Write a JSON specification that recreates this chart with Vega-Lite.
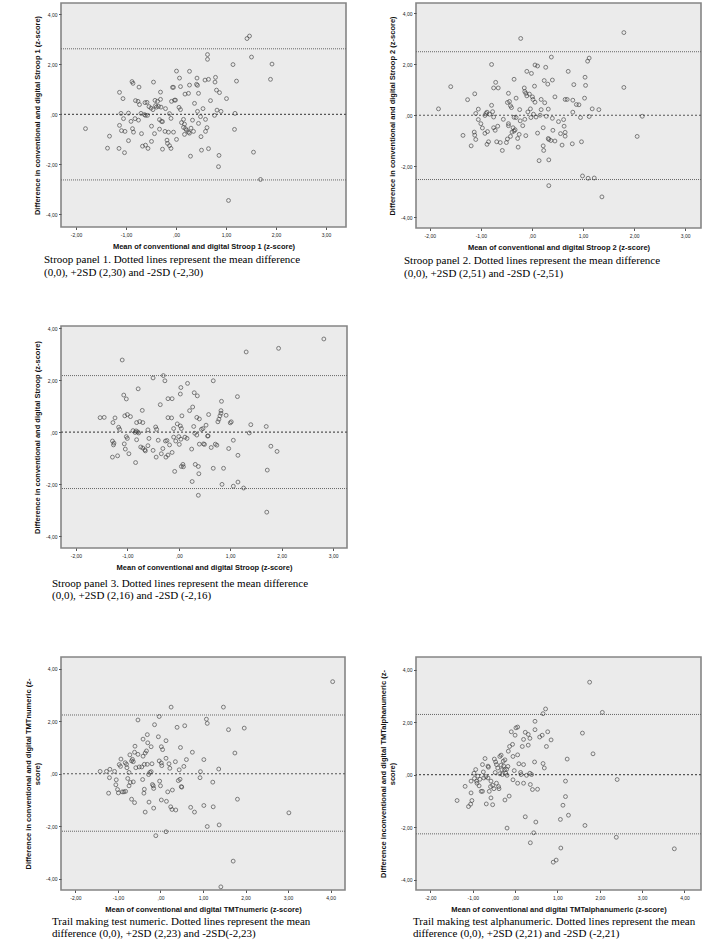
{
"$schema": "https://vega.github.io/schema/vega-lite/v6.json",
"background": "white",
"padding": {"left": 23, "top": 2, "right": 5, "bottom": 5},
"config": {
  "view": {"fill": "#ebebeb", "stroke": "#858585", "strokeWidth": 1.6},
  "axis": {"grid": false, "domain": false, "ticks": true, "tickSize": 2.5, "tickColor": "#555", "labelFont": "Liberation Sans", "labelFontSize": 5, "labelColor": "#222", "labelPadding": 1.5, "titleFont": "Liberation Sans", "titleFontSize": 7.5, "titleFontWeight": "bold", "titleColor": "#111", "titlePadding": 4, "labelOverlap": false, "labelFlush": false},
  "axisX": {"labelPadding": 3, "titlePadding": 5},
  "title": {"font": "Liberation Serif", "fontSize": 11, "fontWeight": "normal", "color": "#000", "orient": "bottom", "anchor": "start", "frame": "group", "lineHeight": 12.5, "offset": 3},
  "point": {"shape": "circle", "filled": false, "size": 15, "stroke": "#3a3a3a", "strokeWidth": 0.9}
},
"datasets": {
"p1": [{"x":-1.81,"y":-0.57},{"x":-1.33,"y":-0.87},{"x":-1.37,"y":-1.35},{"x":-1.13,"y":0.88},{"x":-1.06,"y":0.63},{"x":-1.10,"y":0.04},{"x":-1.13,"y":-0.44},{"x":-1.09,"y":-0.65},{"x":-1.02,"y":-0.68},{"x":-1.14,"y":-1.36},{"x":-1.03,"y":-1.53},{"x":-1.05,"y":-0.17},{"x":-0.95,"y":-1.05},{"x":-0.95,"y":0.05},{"x":-0.88,"y":1.31},{"x":-0.86,"y":1.24},{"x":-0.90,"y":-0.28},{"x":-0.87,"y":-0.57},{"x":-0.85,"y":-0.71},{"x":-0.81,"y":0.55},{"x":-0.76,"y":0.52},{"x":-0.82,"y":-0.17},{"x":-0.75,"y":-0.23},{"x":-0.74,"y":1.09},{"x":-0.73,"y":0.39},{"x":-0.70,"y":0.04},{"x":-0.69,"y":-0.77},{"x":-0.67,"y":-1.27},{"x":-0.63,"y":-0.01},{"x":-0.61,"y":-0.04},{"x":-0.62,"y":0.47},{"x":-0.58,"y":0.48},{"x":-0.61,"y":-1.23},{"x":-0.57,"y":-0.04},{"x":-0.54,"y":0.31},{"x":-0.56,"y":-1.36},{"x":-0.49,"y":-0.47},{"x":-0.49,"y":-1.08},{"x":-0.50,"y":0.25},{"x":-0.45,"y":1.29},{"x":-0.43,"y":-0.77},{"x":-0.46,"y":0.19},{"x":-0.42,"y":0.56},{"x":-0.41,"y":0.35},{"x":-0.39,"y":0.29},{"x":-0.35,"y":0.32},{"x":-0.37,"y":0.52},{"x":-0.31,"y":0.89},{"x":-0.31,"y":0.60},{"x":-0.30,"y":0.29},{"x":-0.33,"y":-0.21},{"x":-0.33,"y":-0.59},{"x":-0.27,"y":-1.39},{"x":-0.29,"y":-0.28},{"x":-0.27,"y":-0.29},{"x":-0.21,"y":0.23},{"x":-0.22,"y":-0.68},{"x":-0.18,"y":-1.03},{"x":-0.17,"y":-1.16},{"x":-0.15,"y":-0.71},{"x":-0.13,"y":-1.25},{"x":-0.10,"y":-1.36},{"x":-0.13,"y":0.03},{"x":-0.10,"y":-0.16},{"x":-0.07,"y":1.08},{"x":-0.05,"y":1.08},{"x":-0.09,"y":0.52},{"x":-0.05,"y":-0.71},{"x":0.01,"y":1.73},{"x":-0.03,"y":0.57},{"x":-0.01,"y":0.57},{"x":0.07,"y":1.45},{"x":0.09,"y":1.11},{"x":0.06,"y":0.28},{"x":0.09,"y":0.19},{"x":0.11,"y":-0.33},{"x":0.15,"y":-0.20},{"x":0.17,"y":-0.39},{"x":0.15,"y":-0.52},{"x":0.19,"y":-0.57},{"x":0.17,"y":-0.80},{"x":0.01,"y":-1.00},{"x":0.18,"y":0.81},{"x":0.25,"y":0.84},{"x":0.27,"y":1.72},{"x":0.27,"y":1.17},{"x":0.21,"y":-0.63},{"x":0.25,"y":-0.71},{"x":0.27,"y":-0.75},{"x":0.30,"y":-0.55},{"x":0.35,"y":-0.68},{"x":0.33,"y":-0.23},{"x":0.29,"y":-1.67},{"x":0.41,"y":1.20},{"x":0.43,"y":1.16},{"x":0.42,"y":1.45},{"x":0.45,"y":0.84},{"x":0.37,"y":0.44},{"x":0.43,"y":0.12},{"x":0.45,"y":-0.36},{"x":0.49,"y":-0.09},{"x":0.50,"y":-0.89},{"x":0.51,"y":-1.43},{"x":0.54,"y":0.23},{"x":0.58,"y":1.37},{"x":0.65,"y":1.40},{"x":0.63,"y":2.39},{"x":0.63,"y":2.20},{"x":0.59,"y":-0.20},{"x":0.62,"y":-0.53},{"x":0.59,"y":-0.68},{"x":0.65,"y":-1.37},{"x":0.69,"y":0.55},{"x":0.77,"y":-0.04},{"x":0.79,"y":1.48},{"x":0.78,"y":1.29},{"x":0.81,"y":0.97},{"x":0.82,"y":0.17},{"x":0.87,"y":0.87},{"x":0.90,"y":0.12},{"x":0.86,"y":-1.64},{"x":0.85,"y":-2.09},{"x":1.01,"y":0.63},{"x":1.05,"y":-3.44},{"x":1.14,"y":1.99},{"x":1.18,"y":0.04},{"x":1.17,"y":-0.60},{"x":1.21,"y":1.33},{"x":1.42,"y":3.03},{"x":1.47,"y":3.13},{"x":1.51,"y":2.29},{"x":1.55,"y":-1.51},{"x":1.69,"y":-2.60},{"x":1.89,"y":1.40},{"x":1.92,"y":2.01}],
"p2": [{"x":-1.83,"y":0.25},{"x":-1.59,"y":1.12},{"x":-1.35,"y":-0.79},{"x":-1.26,"y":0.61},{"x":-1.19,"y":-1.20},{"x":-1.12,"y":0.84},{"x":-1.13,"y":-0.66},{"x":-1.12,"y":-0.78},{"x":-1.10,"y":-0.95},{"x":-1.10,"y":0.07},{"x":-1.05,"y":0.24},{"x":-1.05,"y":-0.17},{"x":-1.00,"y":-0.33},{"x":-0.97,"y":-0.50},{"x":-0.92,"y":-0.71},{"x":-0.90,"y":0.07},{"x":-0.88,"y":0.12},{"x":-0.92,"y":-0.01},{"x":-0.87,"y":-0.64},{"x":-0.88,"y":-1.14},{"x":-0.85,"y":-1.04},{"x":-0.83,"y":0.04},{"x":-0.79,"y":1.99},{"x":-0.79,"y":0.39},{"x":-0.77,"y":0.14},{"x":-0.75,"y":-0.07},{"x":-0.75,"y":-0.49},{"x":-0.72,"y":-0.59},{"x":-0.75,"y":1.07},{"x":-0.71,"y":1.29},{"x":-0.66,"y":1.07},{"x":-0.67,"y":-0.43},{"x":-0.69,"y":-1.04},{"x":-0.62,"y":-1.07},{"x":-0.58,"y":-1.38},{"x":-0.56,"y":-0.16},{"x":-0.50,"y":-1.07},{"x":-0.48,"y":-0.93},{"x":-0.46,"y":-0.33},{"x":-0.46,"y":-0.41},{"x":-0.46,"y":0.86},{"x":-0.48,"y":0.50},{"x":-0.44,"y":0.54},{"x":-0.42,"y":0.37},{"x":-0.40,"y":0.30},{"x":-0.42,"y":-0.83},{"x":-0.39,"y":-0.66},{"x":-0.37,"y":-0.49},{"x":-0.35,"y":1.41},{"x":-0.35,"y":-0.08},{"x":-0.33,"y":-0.57},{"x":-0.35,"y":-0.62},{"x":-0.31,"y":0.67},{"x":-0.31,"y":-0.09},{"x":-0.28,"y":-0.91},{"x":-0.27,"y":-1.25},{"x":-0.24,"y":0.22},{"x":-0.23,"y":-0.22},{"x":-0.25,"y":-0.75},{"x":-0.22,"y":3.01},{"x":-0.18,"y":-0.41},{"x":-0.15,"y":1.07},{"x":-0.14,"y":0.93},{"x":-0.12,"y":0.86},{"x":-0.14,"y":-0.16},{"x":-0.12,"y":-0.80},{"x":-0.10,"y":1.72},{"x":-0.10,"y":0.76},{"x":-0.08,"y":0.13},{"x":-0.05,"y":0.83},{"x":-0.03,"y":0.25},{"x":-0.02,"y":-0.09},{"x":-0.01,"y":1.64},{"x":0.01,"y":0.72},{"x":0.02,"y":0.62},{"x":0.05,"y":1.14},{"x":0.03,"y":0.04},{"x":0.06,"y":0.51},{"x":0.06,"y":1.97},{"x":0.08,"y":-0.07},{"x":0.11,"y":1.93},{"x":0.11,"y":-0.70},{"x":0.14,"y":-1.78},{"x":0.16,"y":0.00},{"x":0.18,"y":0.62},{"x":0.18,"y":0.22},{"x":0.22,"y":-0.49},{"x":0.22,"y":-1.20},{"x":0.23,"y":-1.38},{"x":0.24,"y":1.36},{"x":0.25,"y":0.49},{"x":0.27,"y":1.88},{"x":0.28,"y":-0.04},{"x":0.31,"y":1.22},{"x":0.32,"y":0.24},{"x":0.32,"y":-0.91},{"x":0.33,"y":-0.95},{"x":0.33,"y":-1.75},{"x":0.33,"y":-2.76},{"x":0.37,"y":-0.99},{"x":0.38,"y":2.28},{"x":0.40,"y":-0.12},{"x":0.40,"y":1.38},{"x":0.41,"y":-0.59},{"x":0.45,"y":-1.01},{"x":0.45,"y":0.72},{"x":0.52,"y":-0.25},{"x":0.56,"y":-0.72},{"x":0.59,"y":-1.17},{"x":0.62,"y":-0.17},{"x":0.65,"y":0.62},{"x":0.63,"y":-0.43},{"x":0.65,"y":-0.67},{"x":0.65,"y":-0.82},{"x":0.69,"y":0.62},{"x":0.71,"y":1.72},{"x":0.79,"y":-1.12},{"x":0.80,"y":0.12},{"x":0.82,"y":1.20},{"x":0.80,"y":0.59},{"x":0.87,"y":0.42},{"x":0.92,"y":0.41},{"x":0.95,"y":-0.09},{"x":0.97,"y":-1.04},{"x":0.99,"y":-2.38},{"x":1.03,"y":0.67},{"x":1.04,"y":1.49},{"x":1.05,"y":1.17},{"x":1.09,"y":2.12},{"x":1.12,"y":2.24},{"x":1.12,"y":-0.05},{"x":1.10,"y":-2.47},{"x":1.18,"y":0.25},{"x":1.22,"y":-2.46},{"x":1.31,"y":0.22},{"x":1.37,"y":-3.20},{"x":1.80,"y":3.24},{"x":1.80,"y":1.09},{"x":2.06,"y":-0.83},{"x":2.16,"y":-0.04}],
"p3": [{"x":-1.53,"y":0.56},{"x":-1.45,"y":0.57},{"x":-1.29,"y":-0.34},{"x":-1.28,"y":0.37},{"x":-1.24,"y":0.55},{"x":-1.26,"y":-0.42},{"x":-1.27,"y":-0.49},{"x":-1.29,"y":-0.96},{"x":-1.19,"y":-0.91},{"x":-1.17,"y":0.19},{"x":-1.15,"y":0.11},{"x":-1.10,"y":2.78},{"x":-1.07,"y":1.43},{"x":-1.02,"y":1.28},{"x":-1.05,"y":0.63},{"x":-1.00,"y":0.68},{"x":-0.94,"y":0.60},{"x":-1.06,"y":-0.45},{"x":-1.02,"y":-0.17},{"x":-1.00,"y":-0.24},{"x":-1.04,"y":-0.65},{"x":-0.97,"y":-0.83},{"x":-0.89,"y":0.06},{"x":-0.85,"y":-0.01},{"x":-0.83,"y":0.05},{"x":-0.80,"y":0.01},{"x":-0.78,"y":-0.03},{"x":-0.84,"y":-1.17},{"x":-0.82,"y":0.37},{"x":-0.76,"y":0.41},{"x":-0.79,"y":1.67},{"x":-0.70,"y":0.37},{"x":-0.71,"y":0.84},{"x":-0.82,"y":-0.29},{"x":-0.74,"y":-0.57},{"x":-0.70,"y":-0.61},{"x":-0.66,"y":-0.68},{"x":-0.65,"y":-0.72},{"x":-0.60,"y":0.09},{"x":-0.58,"y":-0.24},{"x":-0.60,"y":-0.52},{"x":-0.50,"y":-0.70},{"x":-0.50,"y":2.09},{"x":-0.45,"y":0.20},{"x":-0.43,"y":0.11},{"x":-0.44,"y":-0.96},{"x":-0.40,"y":-0.31},{"x":-0.36,"y":1.06},{"x":-0.34,"y":-0.83},{"x":-0.31,"y":-0.63},{"x":-0.30,"y":2.18},{"x":-0.27,"y":1.98},{"x":-0.26,"y":-0.34},{"x":-0.23,"y":-0.32},{"x":-0.25,"y":-0.96},{"x":-0.21,"y":-0.88},{"x":-0.21,"y":1.29},{"x":-0.13,"y":1.29},{"x":-0.21,"y":0.56},{"x":-0.14,"y":0.55},{"x":-0.18,"y":-0.49},{"x":-0.13,"y":-0.78},{"x":-0.10,"y":0.14},{"x":-0.10,"y":-0.19},{"x":-0.08,"y":-1.51},{"x":-0.06,"y":-0.34},{"x":-0.03,"y":0.32},{"x":0.00,"y":-0.17},{"x":0.03,"y":0.24},{"x":0.01,"y":-0.47},{"x":0.03,"y":1.47},{"x":0.04,"y":1.72},{"x":0.05,"y":0.14},{"x":0.04,"y":-0.27},{"x":0.06,"y":0.63},{"x":0.05,"y":-1.32},{"x":0.08,"y":-1.24},{"x":0.09,"y":-1.33},{"x":0.12,"y":-0.19},{"x":0.17,"y":1.88},{"x":0.16,"y":-0.24},{"x":0.21,"y":0.83},{"x":0.25,"y":-0.65},{"x":0.26,"y":-1.90},{"x":0.27,"y":0.97},{"x":0.29,"y":0.22},{"x":0.30,"y":1.52},{"x":0.36,"y":1.40},{"x":0.31,"y":-0.04},{"x":0.32,"y":-1.24},{"x":0.35,"y":0.57},{"x":0.35,"y":-0.11},{"x":0.38,"y":-1.32},{"x":0.40,"y":0.51},{"x":0.38,"y":-2.43},{"x":0.39,"y":-1.60},{"x":0.40,"y":-0.46},{"x":0.44,"y":0.11},{"x":0.47,"y":0.14},{"x":0.48,"y":-0.45},{"x":0.50,"y":-0.47},{"x":0.53,"y":0.27},{"x":0.56,"y":-0.15},{"x":0.57,"y":-0.14},{"x":0.58,"y":0.68},{"x":0.63,"y":-0.59},{"x":0.67,"y":1.98},{"x":0.67,"y":-1.39},{"x":0.71,"y":-0.46},{"x":0.74,"y":-0.50},{"x":0.76,"y":0.40},{"x":0.78,"y":0.50},{"x":0.80,"y":0.63},{"x":0.82,"y":0.73},{"x":0.82,"y":0.83},{"x":0.83,"y":1.19},{"x":0.84,"y":-2.01},{"x":0.87,"y":-1.39},{"x":0.92,"y":0.65},{"x":0.97,"y":-0.63},{"x":1.00,"y":0.36},{"x":1.02,"y":0.40},{"x":1.06,"y":-0.31},{"x":1.06,"y":-2.08},{"x":1.14,"y":1.37},{"x":1.15,"y":-0.89},{"x":1.15,"y":-1.92},{"x":1.26,"y":-2.15},{"x":1.31,"y":3.09},{"x":1.37,"y":-0.03},{"x":1.40,"y":0.29},{"x":1.70,"y":0.22},{"x":1.72,"y":-1.46},{"x":1.71,"y":-3.08},{"x":1.79,"y":-0.54},{"x":1.91,"y":-0.74},{"x":1.94,"y":3.23},{"x":2.82,"y":3.59}],
"p4": [{"x":-1.42,"y":0.09},{"x":-1.27,"y":0.09},{"x":-1.22,"y":-0.74},{"x":-1.20,"y":-0.15},{"x":-1.19,"y":0.17},{"x":-1.08,"y":0.09},{"x":-1.04,"y":-0.23},{"x":-1.05,"y":-0.42},{"x":-1.01,"y":-0.60},{"x":-0.99,"y":-0.73},{"x":-0.97,"y":0.35},{"x":-0.93,"y":0.56},{"x":-0.94,"y":0.28},{"x":-0.90,"y":-0.69},{"x":-0.86,"y":-0.69},{"x":-0.83,"y":0.42},{"x":-0.80,"y":0.36},{"x":-0.79,"y":0.23},{"x":-0.82,"y":-0.67},{"x":-0.77,"y":-0.18},{"x":-0.74,"y":0.05},{"x":-0.74,"y":-0.46},{"x":-0.72,"y":0.72},{"x":-0.71,"y":-0.33},{"x":-0.68,"y":0.49},{"x":-0.66,"y":0.55},{"x":-0.64,"y":0.46},{"x":-0.64,"y":-0.31},{"x":-0.68,"y":-0.97},{"x":-0.61,"y":-1.10},{"x":-0.60,"y":1.05},{"x":-0.61,"y":0.82},{"x":-0.58,"y":0.23},{"x":-0.53,"y":2.05},{"x":-0.53,"y":0.74},{"x":-0.50,"y":0.26},{"x":-0.44,"y":0.26},{"x":-0.42,"y":-0.22},{"x":-0.41,"y":1.32},{"x":-0.41,"y":0.67},{"x":-0.39,"y":-0.74},{"x":-0.38,"y":-0.59},{"x":-0.38,"y":0.36},{"x":-0.36,"y":0.79},{"x":-0.36,"y":-1.46},{"x":-0.33,"y":0.87},{"x":-0.31,"y":1.49},{"x":-0.30,"y":1.18},{"x":-0.31,"y":0.36},{"x":-0.28,"y":-0.03},{"x":-0.27,"y":-1.08},{"x":-0.25,"y":0.05},{"x":-0.22,"y":1.03},{"x":-0.22,"y":0.08},{"x":-0.20,"y":0.38},{"x":-0.19,"y":-0.41},{"x":-0.17,"y":-0.46},{"x":-0.16,"y":-1.31},{"x":-0.16,"y":-0.56},{"x":-0.14,"y":1.87},{"x":-0.11,"y":-2.36},{"x":-0.05,"y":1.41},{"x":-0.03,"y":2.18},{"x":-0.03,"y":0.49},{"x":-0.02,"y":-0.28},{"x":0.00,"y":-0.46},{"x":0.02,"y":1.03},{"x":0.03,"y":0.31},{"x":0.02,"y":-1.00},{"x":0.05,"y":0.92},{"x":0.02,"y":0.41},{"x":0.13,"y":1.26},{"x":0.13,"y":0.59},{"x":0.14,"y":-1.05},{"x":0.13,"y":-2.21},{"x":0.17,"y":-0.69},{"x":0.20,"y":0.38},{"x":0.22,"y":0.21},{"x":0.24,"y":-1.26},{"x":0.25,"y":2.54},{"x":0.27,"y":-1.36},{"x":0.28,"y":-0.62},{"x":0.35,"y":0.46},{"x":0.36,"y":-1.38},{"x":0.39,"y":1.77},{"x":0.42,"y":-0.26},{"x":0.44,"y":0.15},{"x":0.46,"y":-0.21},{"x":0.47,"y":1.00},{"x":0.49,"y":-0.49},{"x":0.50,"y":-0.51},{"x":0.55,"y":0.28},{"x":0.57,"y":1.83},{"x":0.61,"y":0.54},{"x":0.71,"y":-1.28},{"x":0.75,"y":0.82},{"x":0.80,"y":-1.46},{"x":0.93,"y":-0.15},{"x":0.94,"y":0.08},{"x":1.02,"y":0.54},{"x":1.02,"y":-1.21},{"x":1.08,"y":2.08},{"x":1.10,"y":1.92},{"x":1.10,"y":-2.01},{"x":1.23,"y":-0.32},{"x":1.24,"y":-1.26},{"x":1.37,"y":0.18},{"x":1.38,"y":-1.95},{"x":1.48,"y":2.54},{"x":1.60,"y":1.68},{"x":1.71,"y":-3.33},{"x":1.75,"y":0.79},{"x":1.81,"y":-0.97},{"x":1.97,"y":1.74},{"x":3.02,"y":-1.49},{"x":4.05,"y":3.51},{"x":1.42,"y":-4.31}],
"p5": [{"x":-1.37,"y":-0.99},{"x":-1.18,"y":-0.45},{"x":-1.10,"y":-1.22},{"x":-1.05,"y":-1.13},{"x":-1.02,"y":-0.99},{"x":-1.04,"y":-0.70},{"x":-1.04,"y":-0.25},{"x":-0.97,"y":0.05},{"x":-0.96,"y":-0.15},{"x":-0.93,"y":0.19},{"x":-0.91,"y":-0.25},{"x":-0.90,"y":-0.33},{"x":-0.88,"y":-0.06},{"x":-0.85,"y":-0.43},{"x":-0.83,"y":-0.18},{"x":-0.80,"y":-0.64},{"x":-0.77,"y":-0.64},{"x":-0.77,"y":0.38},{"x":-0.75,"y":0.10},{"x":-0.74,"y":-0.13},{"x":-0.71,"y":0.61},{"x":-0.69,"y":-0.08},{"x":-0.68,"y":-1.12},{"x":-0.64,"y":-0.13},{"x":-0.64,"y":0.32},{"x":-0.63,"y":0.28},{"x":-0.61,"y":-0.64},{"x":-0.58,"y":-0.46},{"x":-0.57,"y":-0.25},{"x":-0.57,"y":-0.89},{"x":-0.53,"y":-1.15},{"x":-0.53,"y":-0.41},{"x":-0.50,"y":-0.54},{"x":-0.49,"y":0.59},{"x":-0.47,"y":0.08},{"x":-0.46,"y":0.48},{"x":-0.44,"y":-0.33},{"x":-0.44,"y":0.38},{"x":-0.41,"y":0.25},{"x":-0.39,"y":-0.46},{"x":-0.38,"y":-0.54},{"x":-0.36,"y":0.03},{"x":-0.36,"y":0.69},{"x":-0.33,"y":0.74},{"x":-0.33,"y":0.36},{"x":-0.31,"y":0.18},{"x":-0.30,"y":0.00},{"x":-0.28,"y":0.51},{"x":-0.27,"y":0.33},{"x":-0.25,"y":0.18},{"x":-0.24,"y":-0.97},{"x":-0.24,"y":0.56},{"x":-0.22,"y":0.05},{"x":-0.20,"y":0.20},{"x":-0.19,"y":-2.04},{"x":-0.19,"y":-0.03},{"x":-0.17,"y":0.31},{"x":-0.16,"y":0.89},{"x":-0.14,"y":-0.82},{"x":-0.13,"y":1.07},{"x":-0.09,"y":1.63},{"x":-0.06,"y":1.15},{"x":-0.05,"y":0.69},{"x":-0.05,"y":-0.20},{"x":-0.02,"y":0.15},{"x":0.00,"y":1.50},{"x":0.02,"y":1.78},{"x":0.06,"y":0.75},{"x":0.06,"y":1.81},{"x":0.06,"y":-0.33},{"x":0.09,"y":0.41},{"x":0.13,"y":0.08},{"x":0.14,"y":0.00},{"x":0.17,"y":1.07},{"x":0.20,"y":0.38},{"x":0.20,"y":1.34},{"x":0.20,"y":-0.33},{"x":0.24,"y":-1.61},{"x":0.24,"y":1.61},{"x":0.27,"y":-0.03},{"x":0.31,"y":1.53},{"x":0.31,"y":1.12},{"x":0.35,"y":0.05},{"x":0.35,"y":1.38},{"x":0.36,"y":-0.38},{"x":0.36,"y":-2.60},{"x":0.39,"y":0.00},{"x":0.41,"y":-0.57},{"x":0.44,"y":-2.22},{"x":0.46,"y":0.48},{"x":0.47,"y":1.71},{"x":0.47,"y":2.03},{"x":0.49,"y":-1.81},{"x":0.53,"y":-0.56},{"x":0.58,"y":1.43},{"x":0.64,"y":1.50},{"x":0.66,"y":0.42},{"x":0.69,"y":0.25},{"x":0.66,"y":2.32},{"x":0.72,"y":2.50},{"x":0.74,"y":1.07},{"x":0.77,"y":1.63},{"x":0.85,"y":1.32},{"x":0.90,"y":-3.34},{"x":0.97,"y":-3.26},{"x":1.07,"y":-1.71},{"x":1.08,"y":-2.80},{"x":1.13,"y":-1.17},{"x":1.19,"y":-0.84},{"x":1.19,"y":-0.25},{"x":1.23,"y":0.59},{"x":1.26,"y":-1.55},{"x":1.59,"y":1.58},{"x":1.65,"y":-1.94},{"x":1.76,"y":3.52},{"x":1.84,"y":0.79},{"x":2.06,"y":2.37},{"x":2.39,"y":-2.39},{"x":2.41,"y":-0.19},{"x":3.76,"y":-2.83}]
},
"columns": 2,
"spacing": {"row": 98, "column": 69},
"bounds": "flush",
"concat": [
 {
  "width": 285, "height": 224,
  "title": {"text": ["Stroop panel 1. Dotted lines represent the mean difference", "(0,0), +2SD (2,30) and -2SD (-2,30)"], "dx": -17, "offset": 4, "lineHeight": 13.3},
  "encoding": {"y": {"field": "y", "type": "quantitative", "scale": {"domain": [-4.5, 4.45], "nice": false, "zero": false}, "axis": {"values": [-4, -2, 0, 2, 4], "title": "Difference in conventional and digital Stroop 1 (z-score)", "labelExpr": "datum.value == 0 ? ',00' : (datum.value < 0 ? '-' : '') + replace(format(abs(datum.value), '.2f'), '.', ',')"}}},
  "layer": [
   {"data": {"values": [{"y": 2.62}, {"y": -2.62}]}, "mark": {"type": "rule", "strokeDash": [1, 1], "color": "#666", "strokeWidth": 1}},
   {"data": {"values": [{"y": 0}]}, "mark": {"type": "rule", "strokeDash": [2, 2], "color": "#555", "strokeWidth": 1.2}},
   {"data": {"name": "p1"}, "mark": {"type": "point"}, "encoding": {"x": {"field": "x", "type": "quantitative", "scale": {"domain": [-2.3, 3.4], "nice": false, "zero": false}, "axis": {"values": [-2, -1, 0, 1, 2, 3], "title": "Mean of conventional and digital Stroop 1 (z-score)", "labelExpr": "datum.value == 0 ? ',00' : (datum.value < 0 ? '-' : '') + replace(format(abs(datum.value), '.2f'), '.', ',')"}}}}
  ]
 },
 {
  "width": 285, "height": 225,
  "title": {"text": ["Stroop panel 2. Dotted lines represent the mean difference", "(0,0), +2SD (2,51) and -2SD (-2,51)"], "dx": -12, "offset": 4, "lineHeight": 13.3},
  "encoding": {"y": {"field": "y", "type": "quantitative", "scale": {"domain": [-4.42, 4.4], "nice": false, "zero": false}, "axis": {"values": [-4, -2, 0, 2, 4], "title": "Difference in conventional and digital Stroop 2 (z-score)", "labelExpr": "datum.value == 0 ? ',00' : (datum.value < 0 ? '-' : '') + replace(format(abs(datum.value), '.2f'), '.', ',')"}}},
  "layer": [
   {"data": {"values": [{"y": 2.49}, {"y": -2.52}]}, "mark": {"type": "rule", "strokeDash": [1, 1], "color": "#666", "strokeWidth": 1}},
   {"data": {"values": [{"y": 0}]}, "mark": {"type": "rule", "strokeDash": [2, 2], "color": "#555", "strokeWidth": 1.2}},
   {"data": {"name": "p2"}, "mark": {"type": "point"}, "encoding": {"x": {"field": "x", "type": "quantitative", "scale": {"domain": [-2.27, 3.31], "nice": false, "zero": false}, "axis": {"values": [-2, -1, 0, 1, 2, 3], "title": "Mean of conventional and digital Stroop 2 (z-score)", "labelExpr": "datum.value == 0 ? ',00' : (datum.value < 0 ? '-' : '') + replace(format(abs(datum.value), '.2f'), '.', ',')"}}}}
  ]
 },
 {
  "width": 286, "height": 222,
  "title": {"text": ["Stroop panel 3. Dotted lines represent the mean difference", "(0,0), +2SD (2,16) and -2SD (-2,16)"], "dx": -9, "offset": 6.5, "lineHeight": 12},
  "encoding": {"y": {"field": "y", "type": "quantitative", "scale": {"domain": [-4.46, 4.09], "nice": false, "zero": false}, "axis": {"values": [-4, -2, 0, 2, 4], "title": "Difference in conventional and digital Stroop (z-score)", "labelExpr": "datum.value == 0 ? ',00' : (datum.value < 0 ? '-' : '') + replace(format(abs(datum.value), '.2f'), '.', ',')"}}},
  "layer": [
   {"data": {"values": [{"y": 2.18}, {"y": -2.17}]}, "mark": {"type": "rule", "strokeDash": [1, 1], "color": "#666", "strokeWidth": 1}},
   {"data": {"values": [{"y": 0}]}, "mark": {"type": "rule", "strokeDash": [2, 2], "color": "#555", "strokeWidth": 1.2}},
   {"data": {"name": "p3"}, "mark": {"type": "point"}, "encoding": {"x": {"field": "x", "type": "quantitative", "scale": {"domain": [-2.29, 3.27], "nice": false, "zero": false}, "axis": {"values": [-2, -1, 0, 1, 2, 3], "title": "Mean of conventional and digital Stroop (z-score)", "labelExpr": "datum.value == 0 ? ',00' : (datum.value < 0 ? '-' : '') + replace(format(abs(datum.value), '.2f'), '.', ',')"}}}}
  ]
 },
 {
  "width": 285, "height": 233,
  "view": {"fill": null, "stroke": null},
  "data": {"values": []},
  "mark": {"type": "point", "opacity": 0}
 },
 {
  "width": 284, "height": 233,
  "title": {"text": ["Trail making test numeric. Dotted lines represent the mean", "difference (0,0), +2SD (2,23) and -2SD(-2,23)"], "dx": -9, "offset": 3, "lineHeight": 11.8},
  "encoding": {"y": {"field": "y", "type": "quantitative", "scale": {"domain": [-4.43, 4.45], "nice": false, "zero": false}, "axis": {"values": [-4, -2, 0, 2, 4], "title": ["Difference in conventional and digital TMTnumeric (z-", "score)"], "labelExpr": "datum.value == 0 ? ',00' : (datum.value < 0 ? '-' : '') + replace(format(abs(datum.value), '.2f'), '.', ',')"}}},
  "layer": [
   {"data": {"values": [{"y": 2.24}, {"y": -2.19}]}, "mark": {"type": "rule", "strokeDash": [1, 1], "color": "#666", "strokeWidth": 1}},
   {"data": {"values": [{"y": 0}]}, "mark": {"type": "rule", "strokeDash": [2, 2], "color": "#555", "strokeWidth": 1.2}},
   {"data": {"name": "p4"}, "mark": {"type": "point"}, "encoding": {"x": {"field": "x", "type": "quantitative", "scale": {"domain": [-2.34, 4.34], "nice": false, "zero": false}, "axis": {"values": [-2, -1, 0, 1, 2, 3, 4], "title": "Mean of conventional and digital TMTnumeric (z-score)", "labelExpr": "datum.value == 0 ? ',00' : (datum.value < 0 ? '-' : '') + replace(format(abs(datum.value), '.2f'), '.', ',')"}}}}
  ]
 },
 {
  "width": 285, "height": 233,
  "title": {"text": ["Trail making test alphanumeric. Dotted lines represent the mean", "difference (0,0), +2SD (2,21) and -2SD (-2,21)"], "dx": -3, "offset": 3, "lineHeight": 11.8},
  "encoding": {"y": {"field": "y", "type": "quantitative", "scale": {"domain": [-4.4, 4.48], "nice": false, "zero": false}, "axis": {"values": [-4, -2, 0, 2, 4], "title": ["Difference inconventional and digital TMTalphanumeric (z-", "score)"], "labelExpr": "datum.value == 0 ? ',00' : (datum.value < 0 ? '-' : '') + replace(format(abs(datum.value), '.2f'), '.', ',')"}}},
  "layer": [
   {"data": {"values": [{"y": 2.29}, {"y": -2.26}]}, "mark": {"type": "rule", "strokeDash": [1, 1], "color": "#666", "strokeWidth": 1}},
   {"data": {"values": [{"y": 0}]}, "mark": {"type": "rule", "strokeDash": [2, 2], "color": "#555", "strokeWidth": 1.2}},
   {"data": {"name": "p5"}, "mark": {"type": "point"}, "encoding": {"x": {"field": "x", "type": "quantitative", "scale": {"domain": [-2.34, 4.39], "nice": false, "zero": false}, "axis": {"values": [-2, -1, 0, 1, 2, 3, 4], "title": "Mean of conventional and digital TMTalphanumeric (z-score)", "labelExpr": "datum.value == 0 ? ',00' : (datum.value < 0 ? '-' : '') + replace(format(abs(datum.value), '.2f'), '.', ',')"}}}}
  ]
 }
]
}
